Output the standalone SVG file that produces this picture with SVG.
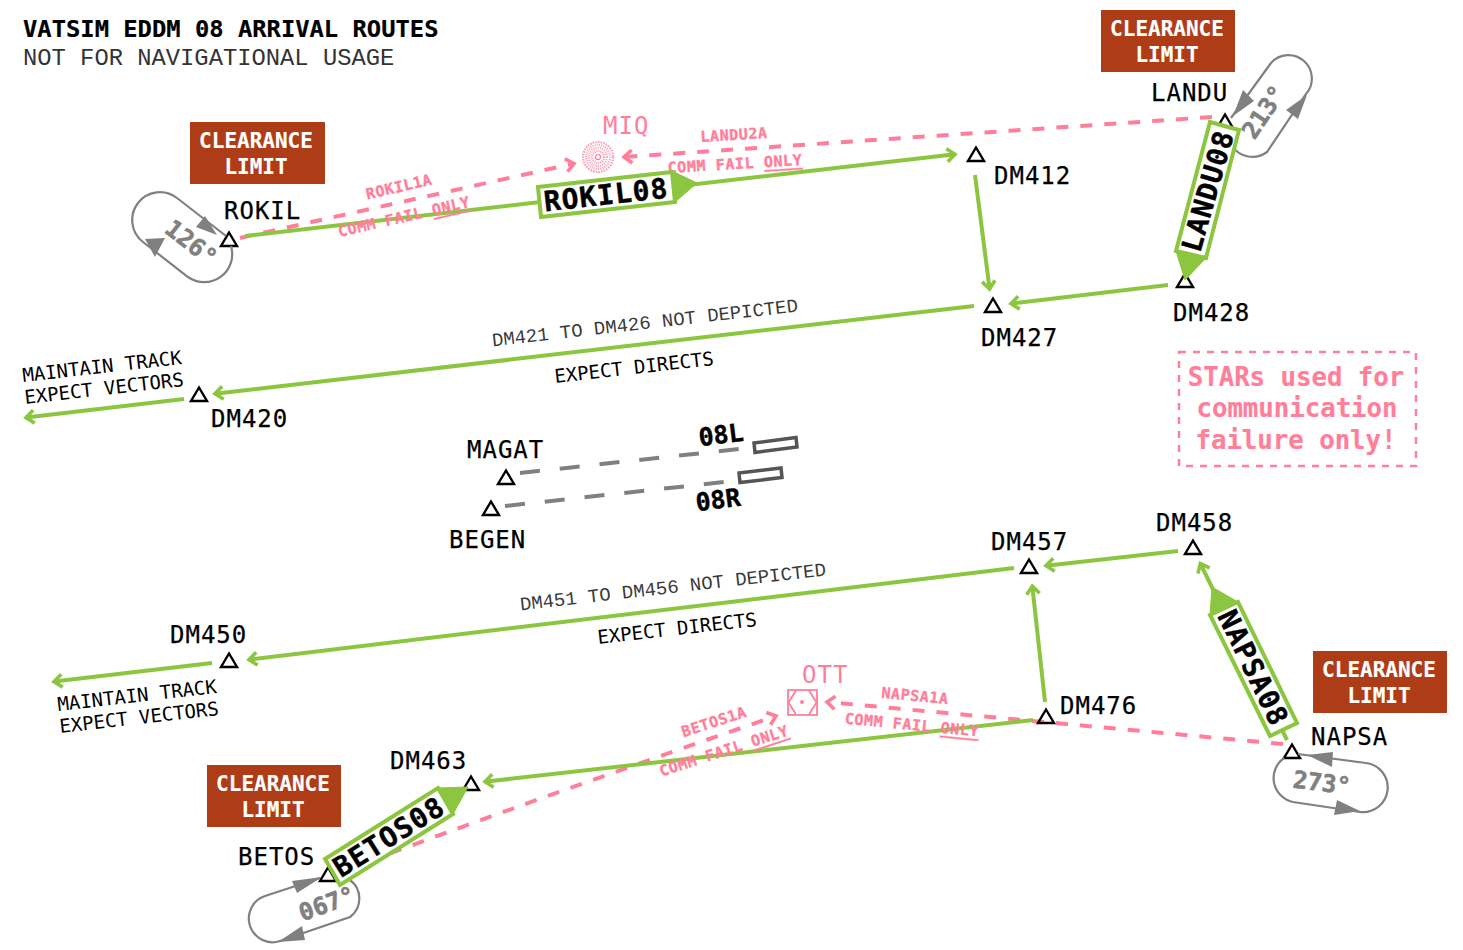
<svg xmlns="http://www.w3.org/2000/svg" width="1463" height="950" viewBox="0 0 1463 950">
<style>
text{font-family:"DejaVu Sans Mono","Liberation Mono",monospace}
.c{text-anchor:middle;dominant-baseline:central}
.wp{font-size:24px;letter-spacing:1px;fill:#000;stroke:#000;stroke-width:.25}
.tri{fill:none;stroke:#000;stroke-width:2.4}
.rt{fill:none;stroke:#8cc53f;stroke-width:4}
.arr{marker-end:url(#ga)}
.cf{fill:none;stroke:#ff7f9b;stroke-width:4;stroke-dasharray:12 12}
.cfa{marker-end:url(#pa)}
.pl{font-size:15px;font-weight:700;fill:#ff7f9b;stroke:#ff7f9b;stroke-width:.4;letter-spacing:.6px}
.nav{font-size:24px;fill:#ff7f9b;letter-spacing:1px}
.lim{fill:#ae3d17}
.limt{font-size:21px;font-weight:700;fill:#fff;stroke:#fff;stroke-width:.15;text-anchor:middle}
.box{fill:#fff;stroke:#8cc53f;stroke-width:4}
.head{fill:#8cc53f;stroke:#8cc53f;stroke-width:1}
.rn{font-size:28px;font-weight:700;letter-spacing:1px;fill:#000;stroke:#000;stroke-width:.4}
.pill{fill:none;stroke:#808080;stroke-width:2.2}
.ph{fill:#808080}
.deg{font-size:24px;font-weight:700;fill:#808080;stroke:#808080;stroke-width:.6}
.note{font-size:19px;fill:#000}
.thin{font-family:"Liberation Mono",monospace;font-size:19px;fill:#3a3a3a}
.rwy{fill:none;stroke:#555;stroke-width:3.5}
.ext{fill:none;stroke:#808080;stroke-width:4;stroke-dasharray:20 20}
.rwt{font-size:25px;font-weight:700;fill:#000;stroke:#000;stroke-width:.4}
.warn{font-size:25.700px;font-weight:700;fill:#ff7f9b;stroke:#ff7f9b;stroke-width:.2;text-anchor:middle}
</style>
<defs>
<marker id="ga" markerUnits="userSpaceOnUse" markerWidth="20" markerHeight="20" refX="14" refY="10" orient="auto"><path d="M6,3.500 L14,10 L6,16.500" fill="none" stroke="#8cc53f" stroke-width="3.600"/></marker>
<marker id="pa" markerUnits="userSpaceOnUse" markerWidth="20" markerHeight="20" refX="14" refY="10" orient="auto"><path d="M6,3.500 L14,10 L6,16.500" fill="none" stroke="#ff7f9b" stroke-width="3.600"/></marker>
<path id="wpt" class="tri" d="M0,-7.500 L8,6 L-8,6 Z"/>
</defs>

<g id="title">
<text x="23" y="37" style="font-size:23.800px;font-weight:700;stroke:#000;stroke-width:.2" fill="#000">VATSIM EDDM 08 ARRIVAL ROUTES</text>
<text x="23" y="65" style="font-family:'Liberation Mono',monospace;font-size:23.800px" fill="#333">NOT FOR NAVIGATIONAL USAGE</text>
</g>

<g id="connectors">
<path class="cf cfa" d="M240,238 L574,163.500"/>
<path class="cf cfa" d="M1212,117 L624,157"/>
<path class="cf cfa" d="M345,870 Q560,790 776,716"/>
<path class="cf cfa" d="M1283,744 L827,702"/>
<path class="rt arr" d="M245,236 L955,154.300"/>
<path class="rt arr" d="M975,175 L989.600,289"/>
<path class="rt arr" d="M1168,285 L1011,303.600"/>
<path class="rt arr" d="M974,306 L215,393.700"/>
<path class="rt arr" d="M184,399 L26,417.600"/>
<path class="rt arr" d="M1178,551 L1046,565.700"/>
<path class="rt arr" d="M1014,568 L249,659.600"/>
<path class="rt arr" d="M212,663 L54,681.600"/>
<path class="rt arr" d="M1045,702 L1032.300,586"/>
<path class="rt arr" d="M1033,720 L485,781.700"/>
<path class="rt arr" d="M1287,740 L1200.300,563.500"/>
<path class="ext" d="M520,473 L739,449"/>
<path class="ext" d="M505,506 L724,482"/>
</g>

<g id="fix-labels">
<text class="pl c" transform="translate(399,187) rotate(-13)">ROKIL1A</text>
<text class="pl c" transform="translate(404,217) rotate(-13)">COMM FAIL <tspan text-decoration="underline">ONLY</tspan></text>
<text class="pl c" transform="translate(734,135) rotate(-3.500)">LANDU2A</text>
<text class="pl c" transform="translate(735,164) rotate(-3.500)">COMM FAIL <tspan text-decoration="underline">ONLY</tspan></text>
<text class="pl c" transform="translate(714,722) rotate(-18)">BETOS1A</text>
<text class="pl c" transform="translate(724,751) rotate(-18)">COMM FAIL <tspan text-decoration="underline">ONLY</tspan></text>
<text class="pl c" transform="translate(915,696) rotate(5.500)">NAPSA1A</text>
<text class="pl c" transform="translate(912,725) rotate(5.500)">COMM FAIL <tspan text-decoration="underline">ONLY</tspan></text>
<text class="thin c" transform="translate(645,324) rotate(-6.500)">DM421 TO DM426 NOT DEPICTED</text>
<text class="note c" transform="translate(634,367) rotate(-6.500)">EXPECT DIRECTS</text>
<text class="note c" transform="translate(102,366) rotate(-6.500)">MAINTAIN TRACK</text>
<text class="note c" transform="translate(104,388) rotate(-6.500)">EXPECT VECTORS</text>
<text class="thin c" transform="translate(673,588) rotate(-6.500)">DM451 TO DM456 NOT DEPICTED</text>
<text class="note c" transform="translate(677,628) rotate(-6.500)">EXPECT DIRECTS</text>
<text class="note c" transform="translate(137,695) rotate(-6.500)">MAINTAIN TRACK</text>
<text class="note c" transform="translate(139,717) rotate(-6.500)">EXPECT VECTORS</text>
</g>

<g id="rokil"><use href="#wpt" x="229" y="240"/><text class="wp" x="224" y="219">ROKIL</text></g>
<g id="dm412"><use href="#wpt" x="976" y="155"/><text class="wp" x="994" y="184">DM412</text></g>
<g id="dm427"><use href="#wpt" x="993" y="306"/><text class="wp" x="981" y="346">DM427</text></g>
<g id="dm428"><use href="#wpt" x="1185" y="281"/><text class="wp" x="1173" y="321">DM428</text></g>
<g id="dm420"><use href="#wpt" x="199" y="395"/><text class="wp" x="211" y="427">DM420</text></g>
<g id="landu"><use href="#wpt" x="1225" y="122"/><text class="wp" x="1151" y="101">LANDU</text></g>
<g id="magat"><use href="#wpt" x="506" y="478"/><text class="wp" x="467" y="458">MAGAT</text></g>
<g id="begen"><use href="#wpt" x="491" y="509"/><text class="wp" x="449" y="548">BEGEN</text></g>
<g id="dm458"><use href="#wpt" x="1193" y="548"/><text class="wp" x="1156" y="531">DM458</text></g>
<g id="dm457"><use href="#wpt" x="1029" y="567"/><text class="wp" x="991" y="550">DM457</text></g>
<g id="dm450"><use href="#wpt" x="229" y="661"/><text class="wp" x="170" y="643">DM450</text></g>
<g id="dm476"><use href="#wpt" x="1046" y="717"/><text class="wp" x="1060" y="714">DM476</text></g>
<g id="napsa"><use href="#wpt" x="1292" y="752"/><text class="wp" x="1311" y="745">NAPSA</text></g>
<g id="dm463"><use href="#wpt" x="471" y="784"/><text class="wp" x="390" y="769">DM463</text></g>
<g id="betos"><use href="#wpt" x="328" y="875"/><text class="wp" x="238" y="865">BETOS</text></g>

<g id="hold-rokil">
<path class="pill" d="M226,236 L177,198 A1,1 0 0 0 143,242 L188,277 A28,28 0 0 0 231,246"/>
<path class="ph" d="M205,216 L196,227 L217,235 Z"/>
<path class="ph" d="M145,239 L165,238 L155,257 Z"/>
<text class="deg c" transform="translate(191,243) rotate(38)">126°</text>
</g>
<g id="hold-landu">
<path class="pill" d="M1231,118 L1271,63 A1,1 0 0 1 1306,94 L1267,152 A24.500,24.500 0 0 1 1232,146"/>
<path class="ph" d="M1243,90 L1254,101 L1233,116 Z"/>
<path class="ph" d="M1307,95 L1286,110 L1298,119 Z"/>
</g>
<g id="hold-napsa">
<path class="pill" d="M1298,754 L1366,763 A1,1 0 0 1 1360,812 L1293,802 A24.500,24.500 0 0 1 1284,758"/>
<path class="ph" d="M1307,755 L1333,752 L1332,767 Z"/>
<path class="ph" d="M1360,811 L1337,800 L1334,815 Z"/>
<text class="deg c" transform="translate(1322,783) rotate(7)">273°</text>
</g>
<g id="hold-betos">
<path class="pill" d="M320,878 L265,896 A1,1 0 0 0 280,941 L350,917 A23,23 0 0 0 350,880"/>
<path class="ph" d="M322,877 L292,881 L297,893 Z"/>
<path class="ph" d="M278,942 L302,926 L305,940 Z"/>
</g>

<g id="limit-rokil"><rect class="lim" x="190" y="122" width="135" height="62"/><text class="limt" x="256" y="148">CLEARANCE</text><text class="limt" x="256" y="174">LIMIT</text></g>
<g id="limit-landu"><rect class="lim" x="1101" y="10" width="134" height="62"/><text class="limt" x="1167" y="36">CLEARANCE</text><text class="limt" x="1167" y="62">LIMIT</text></g>
<g id="limit-napsa"><rect class="lim" x="1313" y="651" width="134" height="62"/><text class="limt" x="1379" y="677">CLEARANCE</text><text class="limt" x="1379" y="703">LIMIT</text></g>
<g id="limit-betos"><rect class="lim" x="207" y="765" width="134" height="62"/><text class="limt" x="273" y="791">CLEARANCE</text><text class="limt" x="273" y="817">LIMIT</text></g>

<g id="route-rokil08">
<path class="head" d="M672,171 L697,183 L675,202 Z"/>
<path class="box" d="M538,187 L672,172 L675,202 L541,217 Z"/>
<text class="rn c" transform="translate(606,195) rotate(-6.500)">ROKIL08</text>
</g>
<g id="route-landu08">
<path class="head" d="M1176,251 L1185,280 L1206,258 Z"/>
<path class="box" d="M1210,122 L1239,130 L1206,258 L1176,251 Z"/>
<text class="rn c" transform="translate(1208,191) rotate(-74)">LANDU08</text>
</g>
<g id="route-napsa08">
<path class="head" d="M1210,615 L1212,587 L1238,602 Z"/>
<path class="box" d="M1210,615 L1238,602 L1297,723 L1270,736 Z"/>
<text class="rn c" transform="translate(1253,668) rotate(64)">NAPSA08</text>
</g>
<g id="route-betos08">
<path class="head" d="M438,788 L468,787 L453,814 Z"/>
<path class="box" d="M325,859 L438,788 L453,814 L340,885 Z"/>
<text class="rn c" transform="translate(389,837) rotate(-32)">BETOS08</text>
</g>

<g id="hold-labels">
<text class="deg c" transform="translate(1264,112) rotate(-56)">213°</text>
<text class="deg c" transform="translate(327,904) rotate(-20)">067°</text>
</g>

<g id="miq">
<text class="nav" x="603" y="134">MIQ</text>
<g fill="none" stroke="#ff7f9b">
<circle cx="598" cy="157" r="15" stroke-width="2.200" stroke-dasharray="1.500 1.200" opacity=".8"/>
<circle cx="598" cy="157" r="12" stroke-width="2.200" stroke-dasharray="1 1.200" opacity=".8"/>
<circle cx="598" cy="157" r="9" stroke-width="2.200" stroke-dasharray="1 1.200" opacity=".8"/>
<circle cx="598" cy="157" r="6" stroke-width="2.200" stroke-dasharray="1 1" opacity=".8"/>
<circle cx="598" cy="157" r="2.500" stroke-width="1.200"/>
</g>
</g>
<g id="ott">
<text class="nav" x="802" y="683">OTT</text>
<g fill="none" stroke="#ff7f9b" stroke-width="1.800">
<rect x="788" y="690" width="29" height="25"/>
<path d="M796,690.500 L788.500,702.500 L796,714.500 M809,690.500 L816.500,702.500 L809,714.500"/>
</g>
<circle cx="802" cy="702" r="2" fill="#ff7f9b"/>
</g>

<g id="runway-08l">
<path class="rwy" d="M754,443 L796,437.500 L797,447 L755,452.500 Z"/>
<text class="rwt c" transform="translate(721,435) rotate(-7)">08L</text>
</g>
<g id="runway-08r">
<path class="rwy" d="M739,473 L781,468 L782,477.500 L740,482.500 Z"/>
<text class="rwt c" transform="translate(718,500) rotate(-7)">08R</text>
</g>

<g id="notice">
<rect x="1179" y="352" width="237" height="114" fill="none" stroke="#ff7f9b" stroke-width="2.500" stroke-dasharray="7 7"/>
<text class="warn" x="1296" y="386">STARs used for</text>
<text class="warn" x="1297" y="417">communication</text>
<text class="warn" x="1296" y="449">failure only!</text>
</g>
</svg>
